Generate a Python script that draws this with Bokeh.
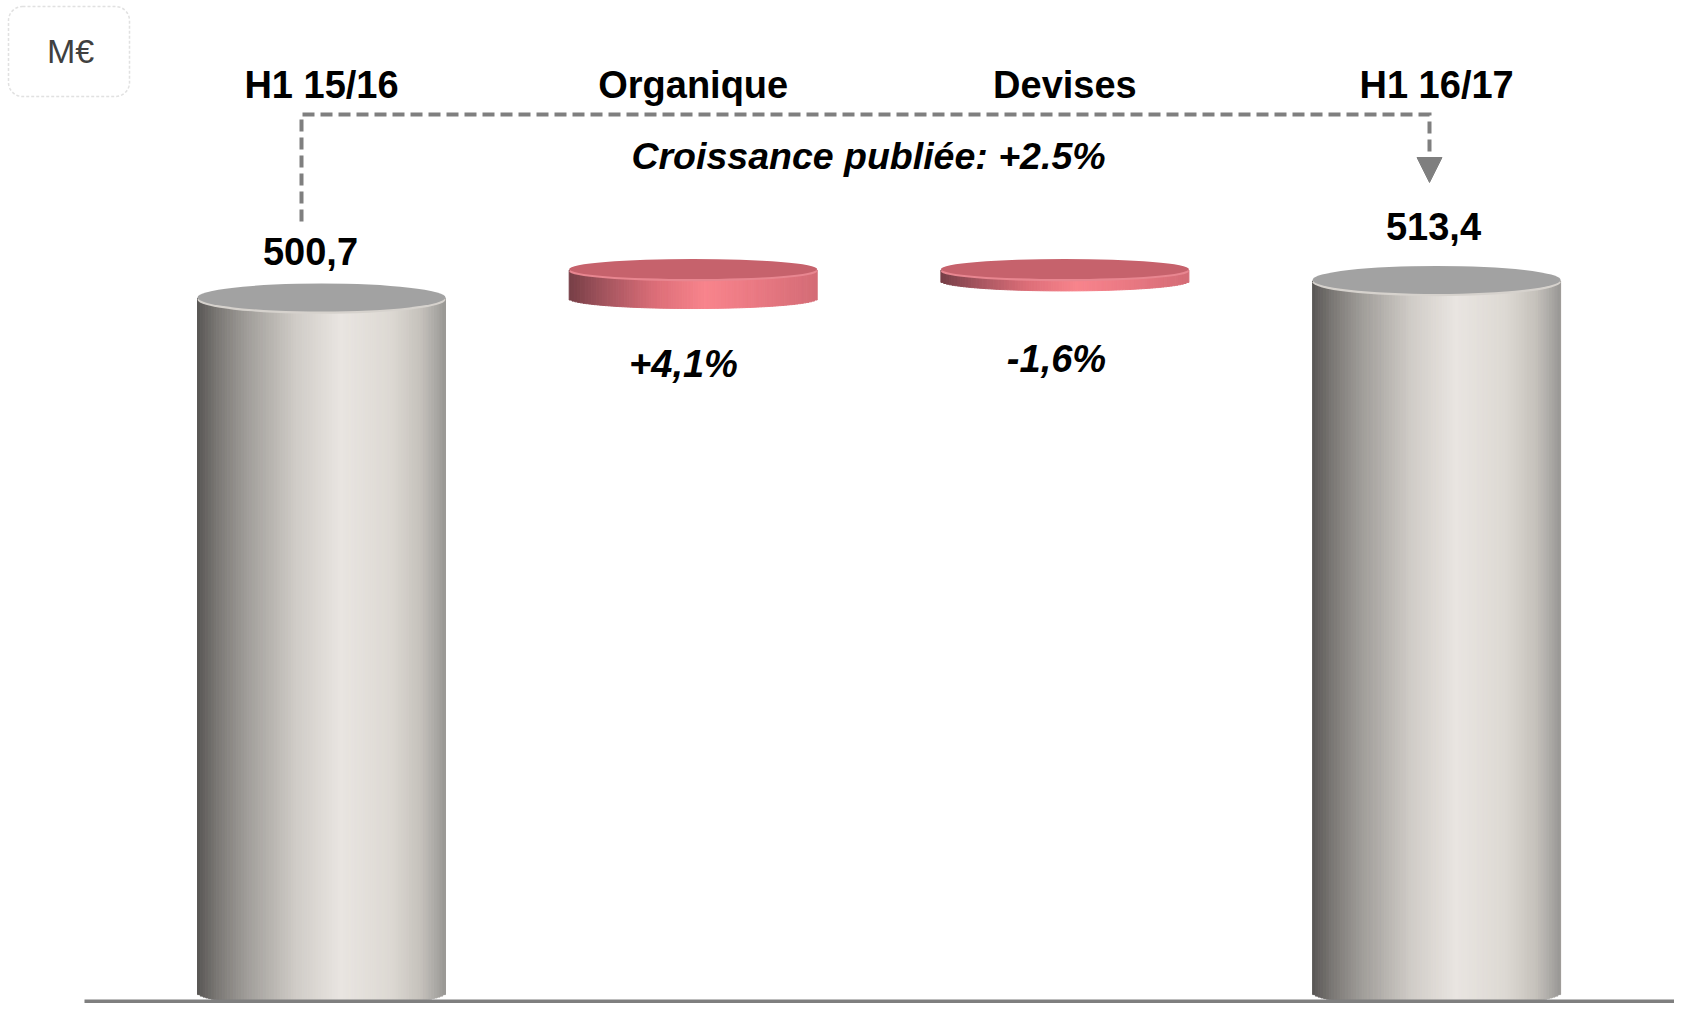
import numpy as np
from bokeh.plotting import figure
from bokeh.models import Range1d, BoxAnnotation, Arrow, NormalHead
from bokeh.core.properties import value
from bokeh.embed import file_html
from bokeh.resources import INLINE

# ---------------- data ----------------
categories = ["H1 15/16", "Organique", "Devises", "H1 16/17"]
start_value = 500.7
end_value = 513.4
organic_pct = 4.1
currency_pct = -1.6
value_labels = ["500,7", "513,4"]
pct_labels = ["+4,1%", "-1,6%"]
unit_label = "M€"
headline = "Croissance publiée: +2.5%"

# ---------------- layout / style ----------------
W, H = 1674, 1003
PXY = 1.386                  # pixels per value unit
PXX = 371.7                  # pixels per category step
ZERO_Y = 992                 # pixel row of value 0
CAT0_X = 321                 # pixel column of first category
X0, X1 = -CAT0_X / PXX, (W - CAT0_X) / PXX
Y0, Y1 = -(H - ZERO_Y) / PXY, ZERO_Y / PXY
FONT = value("Liberation Sans")
FS = "38px"


def vy(py):   # pixel row -> value units
    return (ZERO_Y - py) / PXY


def cx(px):   # pixel column -> category units
    return X0 + px / PXX


bar_w = 248 / PXX
cyl_eh = 28 / PXY            # ellipse height of big cylinders
disc_eh = 20 / PXY           # ellipse height of red discs

gray_stops = [(0.0, (88, 86, 84)), (0.08, (122, 119, 116)), (0.2, (160, 157, 153)),
              (0.4, (208, 204, 199)), (0.58, (233, 229, 225)), (0.78, (221, 217, 211)),
              (0.9, (198, 194, 188)), (0.96, (172, 170, 166)), (1.0, (152, 150, 147))]
red_stops = [(0.0, (118, 62, 70)), (0.15, (165, 85, 95)), (0.35, (220, 110, 120)),
             (0.55, (248, 132, 140)), (0.75, (234, 121, 131)), (1.0, (212, 108, 118))]


def interp(stops, t):
    for (t0, c0), (t1, c1) in zip(stops[:-1], stops[1:]):
        if t <= t1:
            f = (t - t0) / (t1 - t0) if t1 > t0 else 0
            c = [int(round(a + (b - a) * f)) for a, b in zip(c0, c1)]
            return "#%02x%02x%02x" % tuple(c)
    return "#%02x%02x%02x" % stops[-1][1]


p = figure(width=W, height=H, x_range=Range1d(X0, X1), y_range=Range1d(Y0, Y1),
           output_backend="svg", toolbar_location=None, min_border=0,
           x_axis_type=None, y_axis_type=None)
p.grid.visible = False
p.outline_line_color = None
p.background_fill_color = "white"
p.border_fill_color = "white"


def shape(xc, bottom, top, eh, stops, top_color, rim_color, n=90):
    left = xc - bar_w / 2
    edges = np.linspace(left, left + bar_w, n + 1)
    mids = (edges[:-1] + edges[1:]) / 2
    u = (mids - xc) / (bar_w / 2)
    bots = bottom - (eh / 2) * np.sqrt(np.clip(1 - u ** 2, 0, 1))
    cols = [interp(stops, (m - left) / bar_w) for m in mids]
    p.quad(left=edges[:-1], right=edges[1:], bottom=bots, top=[top] * n,
           fill_color=cols, line_color=cols, line_width=1)
    p.ellipse(x=[xc], y=[top - 1.2 / PXY], width=[bar_w], height=[eh],
              fill_color=rim_color, line_color=None)
    p.ellipse(x=[xc], y=[top + 1.0 / PXY], width=[bar_w], height=[eh],
              fill_color=top_color, line_color=None)


organic_top = start_value * (1 + organic_pct / 100)

# big cylinders
shape(0, 0, start_value, cyl_eh, gray_stops, "#a2a2a2", "#d6d2cd")
shape(3, 0, end_value, cyl_eh, gray_stops, "#a2a2a2", "#d6d2cd")
# red discs
shape(1, start_value, organic_top, disc_eh, red_stops, "#c6626c", "#e88690")
shape(2, end_value, organic_top, disc_eh, red_stops, "#c6626c", "#e88690")

# baseline
p.quad(left=[cx(84)], right=[X1], bottom=[Y0], top=[Y0 + 4 / PXY],
       fill_color="#7f7f7f", line_color=None)

# category labels
p.text(x=[0, 1, 2, 3], y=[vy(84)] * 4, text=categories, text_font=FONT,
       text_font_style="bold", text_font_size=FS, text_align="center",
       text_baseline="middle", text_color="black")

# value labels above cylinders
p.text(x=[cx(310), cx(1433)], y=[start_value + 47 / PXY, end_value + 54 / PXY],
       text=value_labels, text_font=FONT, text_font_style="bold", text_font_size=FS,
       text_align="center", text_baseline="middle", text_color="black")

# percentage labels
p.text(x=[cx(683), cx(1056)], y=[vy(363), vy(358)], text=pct_labels,
       text_font=FONT, text_font_style="bold italic", text_font_size=FS,
       text_align="center", text_baseline="middle", text_color="black")

# headline
p.text(x=[cx(868)], y=[vy(155)], text=[headline], text_font=FONT,
       text_font_style="bold italic", text_font_size="37.5px", text_align="center",
       text_baseline="middle", text_color="black")

# dashed connector
xl, xr = cx(301), cx(1429)
p.line(x=[xl, xl, xr, xr], y=[vy(221), vy(114), vy(114), vy(156)], line_color="#7f7f7f",
       line_width=4, line_dash="12 6", line_join="miter")
p.add_layout(Arrow(end=NormalHead(size=25, fill_color="#7f7f7f", line_color="#7f7f7f"),
                   x_start=xr, y_start=vy(156), x_end=xr, y_end=vy(182), line_alpha=0))

# unit box
p.add_layout(BoxAnnotation(left=cx(8), right=cx(129), bottom=vy(96), top=vy(6),
                           border_radius=14, fill_color="white", fill_alpha=1,
                           line_color="#9a9a9a", line_dash="3 2", line_width=1.5,
                           level="underlay"))
p.text(x=[cx(70)], y=[vy(50)], text=[unit_label], text_font=FONT,
       text_font_size="34px", text_align="center", text_baseline="middle",
       text_color="#404040")

open("out.html", "w").write(file_html(p, INLINE))
